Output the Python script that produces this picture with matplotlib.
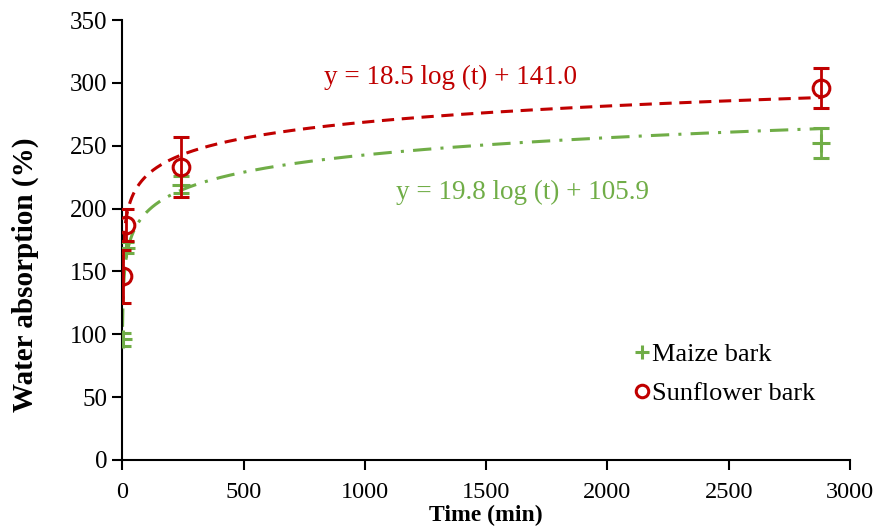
import numpy as np
import matplotlib.pyplot as plt

# data
time_min = [1, 15, 240, 2880]
maize = [96, 169, 219, 252]
maize_err = [5, 4, 7, 12]
sunflower = [146, 187, 233, 296]
sunflower_err = [21, 13, 24, 16]

# logarithmic fits (natural log, as Excel does)
maize_fit = (19.8, 105.9)
sunflower_fit = (18.5, 141.0)

GREEN = '#70AD47'
RED = '#C00000'

plt.rcParams['font.family'] = ['Liberation Serif', 'DejaVu Serif']

fig = plt.figure(figsize=(8.8, 5.28), dpi=100)
ax = fig.add_axes([0.139, 0.129, 0.827, 0.833])

t = np.linspace(1, 2880, 3000)
ax.plot(t, maize_fit[0] * np.log(t) + maize_fit[1], color=GREEN, lw=2.2,
        linestyle=(0, (6, 3, 1, 3)), zorder=2)
ax.plot(t, sunflower_fit[0] * np.log(t) + sunflower_fit[1], color=RED, lw=2.2,
        linestyle=(0, (4, 2.5)), zorder=2)

ax.errorbar(time_min, maize, yerr=maize_err, fmt='+', color=GREEN, ms=13, mew=2.2,
            elinewidth=2, capsize=6, capthick=2, label='Maize bark', zorder=3)
ax.errorbar(time_min, sunflower, yerr=sunflower_err, fmt='o', color=RED, ms=12,
            mfc='none', mew=2.2, elinewidth=2, capsize=6, capthick=2,
            label='Sunflower bark', zorder=4)

ax.text(1352, 304, 'y = 18.5 log (t) + 141.0', color=RED, fontsize=19.5,
        ha='center', va='center')
ax.text(1648, 213, 'y = 19.8 log (t) + 105.9', color=GREEN, fontsize=19.5,
        ha='center', va='center')

ax.set_xlim(0, 3000)
ax.set_ylim(0, 350)
ax.set_xticks(range(0, 3001, 500))
ax.set_yticks(range(0, 351, 50))
ax.spines['top'].set_visible(False)
ax.spines['right'].set_visible(False)
ax.spines['left'].set_linewidth(1.5)
ax.spines['bottom'].set_linewidth(1.5)
ax.tick_params(axis='both', labelsize=18, width=1.5, length=7, direction='out')
ax.tick_params(axis='x', labelsize=17.5, pad=9)
ax.set_xlabel('Time (min)', fontsize=17, fontweight='bold', labelpad=1)
ax.set_ylabel('Water absorption (%)', fontsize=21, fontweight='bold')
ax.yaxis.set_label_coords(-0.115, 0.42)

handles, labels = ax.get_legend_handles_labels()
handles = [h[0] for h in handles]
ax.legend(handles, labels, loc='lower right', bbox_to_anchor=(0.985, 0.07),
          frameon=False, fontsize=19, handlelength=0.6, handletextpad=0.1,
          labelspacing=0.6, markerscale=0.75)

fig.savefig('out.png', dpi=100)
